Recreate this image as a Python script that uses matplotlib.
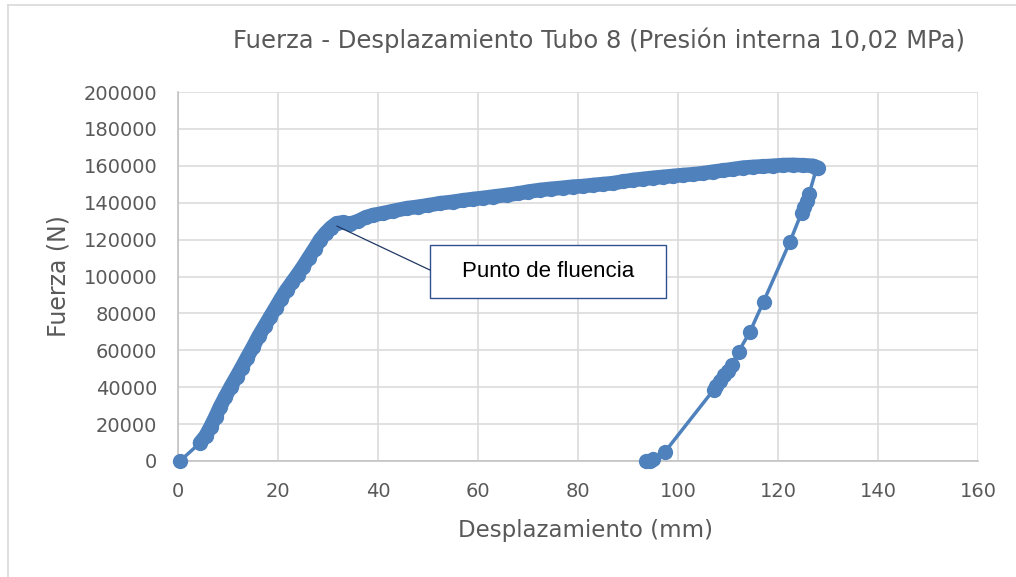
import matplotlib
matplotlib.use("Agg")
import matplotlib.pyplot as plt
from matplotlib.patches import Rectangle
from matplotlib.lines import Line2D

# Desplazamiento (mm) y fuerza (N)
desplazamiento = [0.4, 4.4, 5.5, 6.5, 7.5, 8.4, 9.4, 10.5, 11.7, 12.7, 13.8, 15.0,
                  16.1, 17.3, 18.4, 19.5, 20.6, 21.7, 22.8, 23.9, 25.0, 26.1, 27.3,
                  28.4, 29.5, 30.6, 31.7, 33.0, 34.4, 36.0, 37.5, 39.0, 41.0, 43.0,
                  45.7, 48.0, 50.0, 52.4, 55.0, 57.0, 59.0, 61.0, 63.0, 65.7, 68.0,
                  70.0, 72.4, 74.5, 77.0, 79.0, 81.0, 83.0, 85.0, 87.0, 89.0, 91.0,
                  93.0, 95.0, 97.0, 99.0, 101.0, 103.0, 105.0, 107.0, 109.0, 111.0,
                  113.0, 115.0, 117.0, 119.0, 121.0, 123.0, 125.0, 127.0, 128.0,
                  127.7, 126.2, 125.7, 125.2, 124.7, 122.4, 117.1, 114.4, 112.1,
                  110.7, 110.0, 109.2, 108.3, 107.5, 107.1, 97.4, 95.0, 94.4, 93.6]
fuerza = [0, 9800, 13500, 18500, 24000, 29300, 34500, 40000, 45700, 50500, 56000, 61800,
          67500, 73000, 78000, 83000, 88000, 92700, 96800, 101000, 105300, 110000, 115000,
          119800, 123500, 126500, 128800, 129300, 128600, 130000, 132000, 133300, 134300, 135500,
          137000, 137800, 138600, 139700, 140500, 141300, 142000, 142600, 143300, 144200, 145000,
          146000, 146900, 147500, 148100, 148700, 149000, 149600, 150100, 150600, 151500, 152300,
          152900, 153500, 154000, 154500, 155000, 155400, 156000, 156800, 157500, 158200,
          159000, 159400, 159700, 160000, 160400, 160500, 160300, 160000, 159000,
          158600, 144500, 141000, 137500, 134500, 118900, 86300, 70100, 59200,
          52000, 49000, 46500, 43500, 40500, 38500, 5000, 1200, 0, 0]

# tramo con muestreo muy denso (se ve como banda continua)
denso = slice(1, 76)

xticks = list(range(0, 161, 20))
yticks = list(range(0, 200001, 20000))

azul = '#4f81bd'
gris = '#595959'

fig = plt.figure(figsize=(10.16, 5.77), dpi=100)
ax = fig.add_axes([178/1016, 1-461/577, 800/1016, 369/577])

ax.plot(desplazamiento[denso], fuerza[denso], '-', color=azul, lw=10.5,
        solid_capstyle='round', solid_joinstyle='round', zorder=3)
ax.plot(desplazamiento, fuerza, '-o', color=azul, lw=2.5, ms=11,
        markeredgewidth=0, zorder=3, clip_on=False)

ax.set_xlim(0, 160)
ax.set_ylim(0, 200000)
ax.set_xticks(xticks)
ax.set_yticks(yticks)
ax.grid(True, color='#d9d9d9', lw=1.1)
ax.set_axisbelow(True)
ax.tick_params(length=0, labelsize=14, labelcolor=gris, pad=15)
for s in ['top', 'right']:
    ax.spines[s].set_visible(False)
for s in ['left', 'bottom']:
    ax.spines[s].set_color('#bfbfbf')
    ax.spines[s].set_linewidth(1.1)

ax.set_xlabel('Desplazamiento (mm)', fontsize=16.5, color=gris)
ax.xaxis.set_label_coords((585-178)/800, -(519-461)/369)
ax.set_ylabel('Fuerza (N)', fontsize=17, color=gris)
ax.yaxis.set_label_coords(-(178-71)/800, 0.5)
fig.text(599/1016, 1-40/577, 'Fuerza - Desplazamiento Tubo 8 (Presión interna 10,02 MPa)',
         fontsize=17.5, color=gris, ha='center', va='center')

# cuadro de anotacion
ax.add_patch(Rectangle((50.4, 88350), 47.2, 28700, facecolor='white',
                       edgecolor='#2f4f8f', lw=1, zorder=4))
ax.text(74, 102700, 'Punto de fluencia', fontsize=16, family='Liberation Sans',
        ha='center', va='center', color='black', zorder=5)
ax.plot([31.8, 50.4], [127300, 103500], color='#1f3864', lw=0.9, zorder=4)

# borde del area del grafico
fig.add_artist(Line2D([8/1016, 8/1016], [0, 1-5/577], color='#d9d9d9', lw=1.2))
fig.add_artist(Line2D([8/1016, 1], [1-5/577, 1-5/577], color='#d9d9d9', lw=1.2))

fig.savefig('out.png', dpi=100)
